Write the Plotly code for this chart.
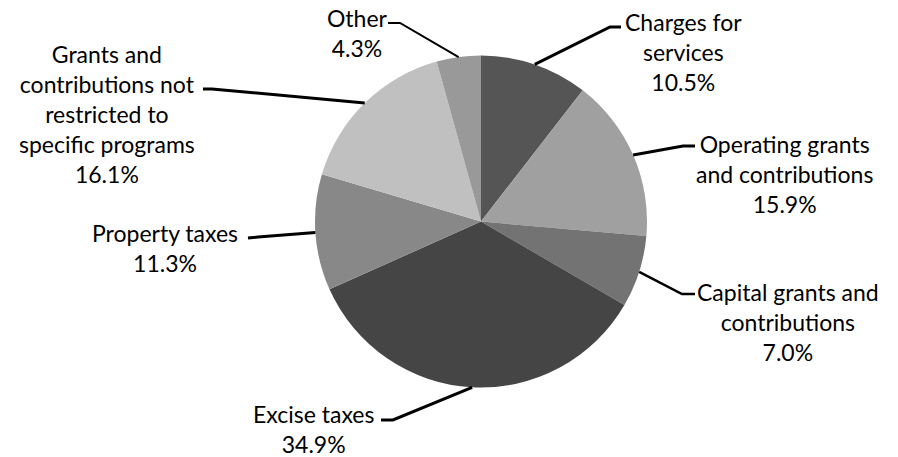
import math
import plotly.graph_objects as go

categories = ["Charges for services", "Operating grants and contributions",
              "Capital grants and contributions", "Excise taxes", "Property taxes",
              "Grants and contributions not restricted to specific programs", "Other"]
label_text = ["Charges for<br>services", "Operating grants<br>and contributions",
              "Capital grants and<br>contributions", "Excise taxes", "Property taxes",
              "Grants and<br>contributions not<br>restricted to<br>specific programs", "Other"]
values = [10.5, 15.9, 7.0, 34.9, 11.3, 16.1, 4.3]
colors = ["#555555", "#a0a0a0", "#737373", "#454545", "#888888", "#c0c0c0", "#999999"]

W, H = 898, 457
CX, CY, R = 481, 221.5, 166

# label layout: text centre (px), leader elbow & end (px), leader width
label_pos = [(683, 52), (784, 174), (788, 322), (313, 429), (165, 248), (107, 114), (357, 33)]
leader_elbow = [(610, 27), (683, 146), (682, 294), (393, 420), (258, 237), (212, 89), (400, 23)]
leader_end = [(621, 27), (695, 146), (695, 294), (381, 420), (248, 238), (203, 89), (388, 23)]
leader_w = [3, 3, 2.5, 3, 3, 3, 2]

def px(x):
    return x / W

def py(y):
    return 1 - y / H

fig = go.Figure(go.Pie(
    labels=categories, values=values, sort=False, direction="clockwise", rotation=0,
    marker=dict(colors=colors, line=dict(width=0)),
    textinfo="none", hoverinfo="label+percent", showlegend=False,
    domain=dict(x=[px(CX - R), px(CX + R)], y=[py(CY + R), py(CY - R)]),
))

total = sum(values)
cum = 0
shapes, annotations = [], []
for i, v in enumerate(values):
    mid = (cum + v / 2) / total
    cum += v
    ang = 2 * math.pi * mid
    ex, ey = CX + R * math.sin(ang), CY - R * math.cos(ang)
    (bx, by), (fx, fy) = leader_elbow[i], leader_end[i]
    shapes.append(dict(type="path", xref="paper", yref="paper",
                       path=f"M {px(ex)},{py(ey)} L {px(bx)},{py(by)} L {px(fx)},{py(fy)}",
                       line=dict(color="black", width=leader_w[i])))
    tx, ty = label_pos[i]
    annotations.append(dict(x=px(tx), y=py(ty), xref="paper", yref="paper",
                            text=f"{label_text[i]}<br>{v:.1f}%", showarrow=False,
                            xanchor="center", yanchor="middle", align="center",
                            font=dict(family="Lato", size=23, color="black")))

fig.update_layout(width=W, height=H, margin=dict(l=0, r=0, t=0, b=0),
                  paper_bgcolor="white", plot_bgcolor="white",
                  shapes=shapes, annotations=annotations)
fig.write_html("out.html")
